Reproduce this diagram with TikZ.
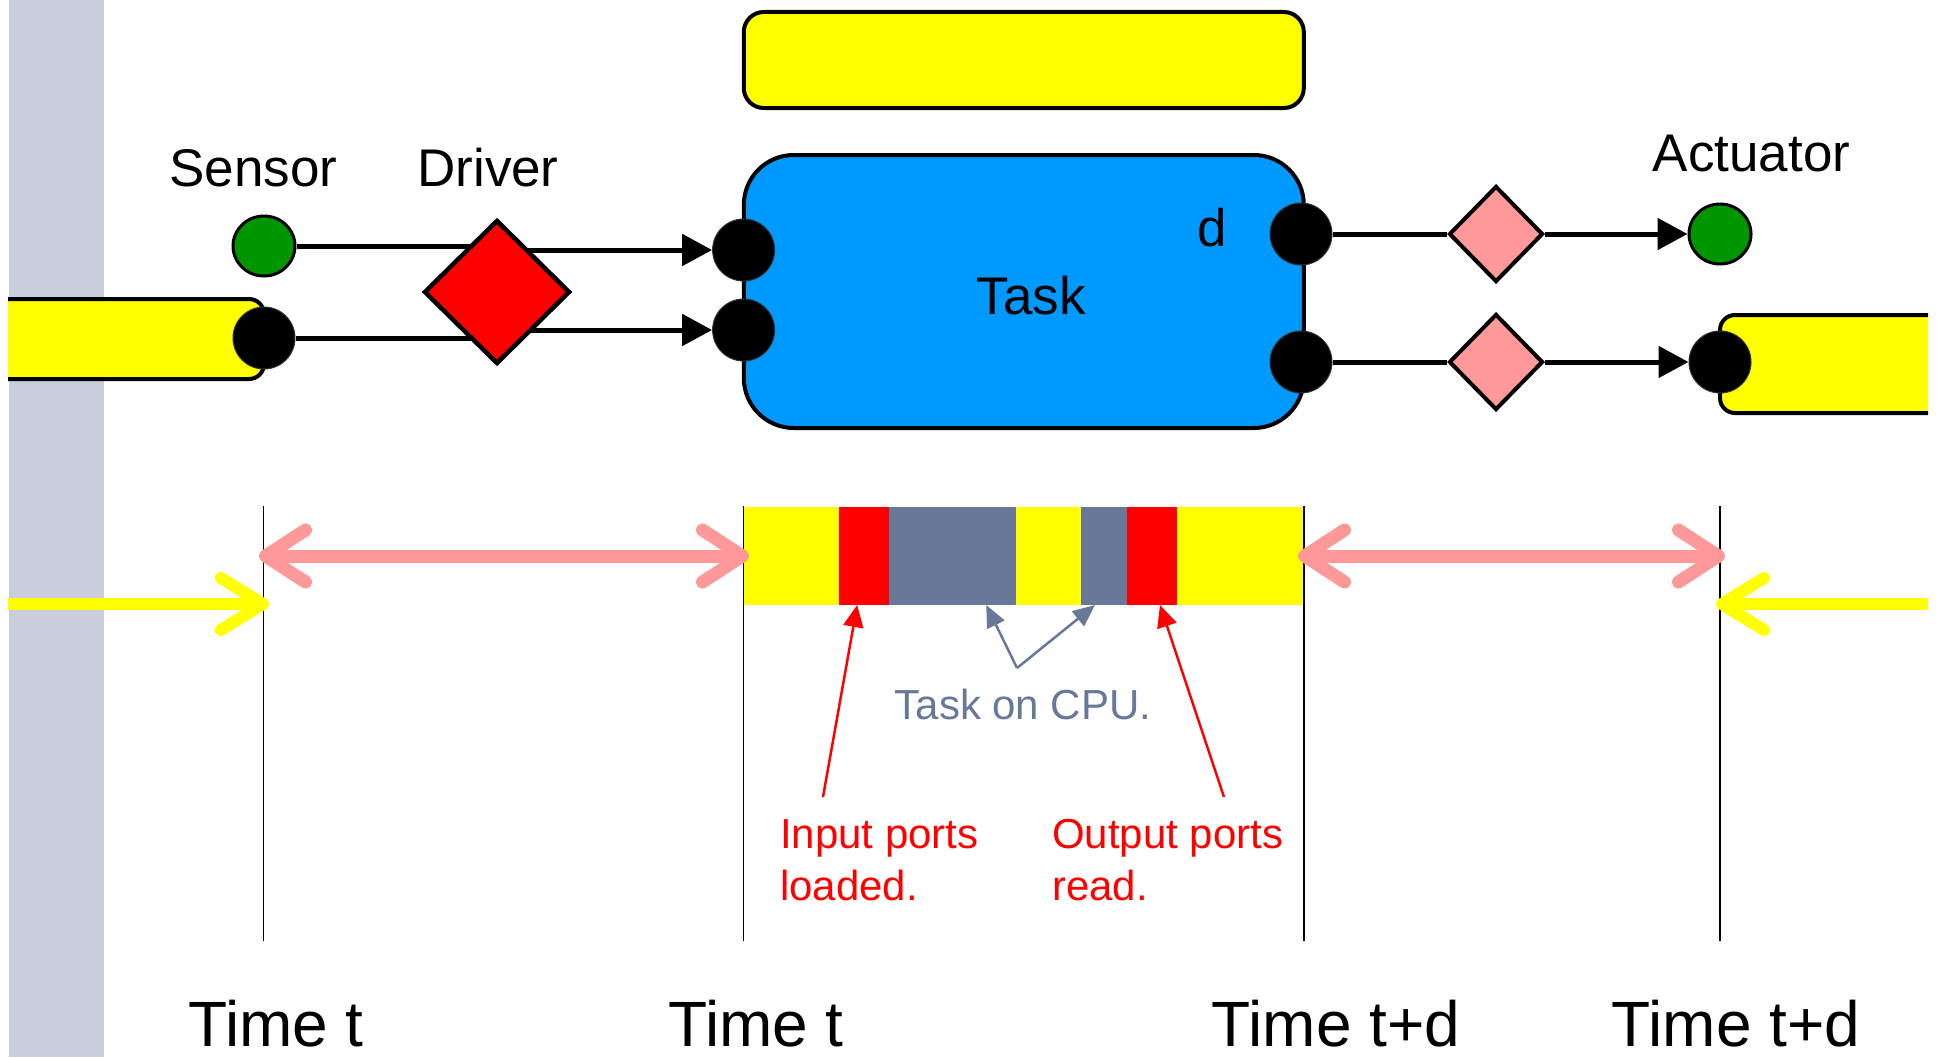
\documentclass[tikz,border=0pt]{standalone}
\usepackage{fontspec}
\setmainfont{Liberation Sans}
\usetikzlibrary{arrows.meta,shapes.geometric}

\definecolor{railgray}{RGB}{200,206,220}
\definecolor{taskblue}{RGB}{0,153,255}
\definecolor{leafgreen}{RGB}{0,150,0}
\definecolor{salmon}{RGB}{255,153,153}
\definecolor{cpuslate}{RGB}{103,120,152}
\definecolor{lemon}{RGB}{255,255,0}
\definecolor{hotred}{RGB}{255,0,0}

\pgfdeclarelayer{wires}
\pgfsetlayers{wires,main}

\begin{document}
\begin{tikzpicture}[x=1pt,y=-1pt,
  port/.style={ellipse, fill=black, draw=black!80, line width=1pt,
    minimum width=62pt, minimum height=62pt, inner sep=0pt},
  device/.style={ellipse, fill=leafgreen, draw=black, line width=3pt,
    minimum width=62pt, minimum height=60pt, inner sep=0pt},
  drvbox/.style={diamond, fill=hotred, draw=black, line width=4.5pt,
    minimum width=146pt, minimum height=144pt, inner sep=0pt},
  delaybox/.style={diamond, fill=salmon, draw=black, line width=4pt,
    minimum width=94pt, minimum height=96pt, inner sep=0pt},
  wire/.style={line width=5pt},
  feed/.style={wire, -{Triangle[length=30pt,width=31pt]}},
  lbl/.style={anchor=base, inner sep=0pt, font=\fontsize{53}{60}\selectfont},
  timelbl/.style={anchor=base, inner sep=0pt, font=\fontsize{64}{72}\selectfont},
  note/.style={anchor=base west, inner sep=0pt, text=hotred, font=\fontsize{42}{52}\selectfont},
  notearrow/.style={draw=hotred, line width=2.5pt, -{Triangle[length=22pt,width=20pt]}},
  cpuarrow/.style={draw=cpuslate, line width=2.5pt, -{Triangle[length=22pt,width=19pt]}},
  seg/.style={rectangle, inner sep=0pt, outer sep=0pt, minimum height=98pt},
  tick/.style={line width=1.5pt},
  span/.style={draw=salmon, line width=13pt,
    {Straight Barb[length=40pt,width=52pt,round]}-{Straight Barb[length=40pt,width=52pt,round]}},
  flow/.style={draw=lemon, line width=12pt, -{Straight Barb[length=42pt,width=52pt,round]}}
]
\useasboundingbox (0,0) rectangle (1940,1057);

% side rail
\fill[railgray] (8.7,0) rectangle (104,1057);

% buffers entering and leaving the picture
\begin{scope}
  \clip (8,0) rectangle (1928,1057);
  \draw[fill=lemon, line width=4pt, rounded corners=15pt]
    (-40,299) -- (264,299) -- (264,379) -- (-40,379);
  \draw[fill=lemon, line width=4pt, rounded corners=15pt]
    (1980,315) -- (1720,315) -- (1720,413) -- (1980,413);
\end{scope}

% frame above the task
\node[draw, fill=lemon, line width=4pt, rounded corners=20pt,
  minimum width=560pt, minimum height=96pt, inner sep=0pt] (frame) at (1023.8,60) {};

% task actor
\node[draw, fill=taskblue, line width=4pt, rounded corners=50pt,
  minimum width=560pt, minimum height=273pt, inner sep=0pt] (task) at (1023.8,291.5) {};
\node[lbl] (tasklbl) at (1031,314) {Task};
\node[lbl] (dlbl) at (1212,246) {d};

% sensors, driver, actuators
\node[device] (sensor) at (264,246) {};
\node[port] (srcport) at (264,338) {};
\node[drvbox] (drv) at (497,292) {};
\node[port] (inA) at (743.6,250) {};
\node[port] (inB) at (743.6,330) {};
\node[port] (outA) at (1301,234) {};
\node[port] (outB) at (1301,362) {};
\node[delaybox] (dlyA) at (1496,234) {};
\node[delaybox] (dlyB) at (1496,362) {};
\node[device] (act) at (1720,234) {};
\node[port] (sinkport) at (1720,362) {};

\node[lbl] (sensorlbl) at (253.5,186) {Sensor};
\node[lbl] (driverlbl) at (488,186) {Driver};
\node[lbl] (actlbl) at (1751.5,171) {Actuator};

% connections, kept below the nodes
\begin{pgfonlayer}{wires}
  \draw[wire] (sensor) -- (sensor -| drv);
  \draw[feed] (drv |- inA) -- (inA);
  \draw[wire] (srcport) -- (srcport -| drv);
  \draw[feed] (drv |- inB) -- (inB);
  \draw[wire] (outA) -- (dlyA);
  \draw[feed] (dlyA) -- (act);
  \draw[wire] (outB) -- (dlyB);
  \draw[feed] (dlyB) -- (sinkport);
\end{pgfonlayer}

% execution timeline of the task
\fill[lemon] (743.6,507) rectangle (1304,605);
\node[seg, fill=hotred, minimum width=49.6pt] (ldA) at (864.2,556) {};
\node[seg, fill=cpuslate, minimum width=126.5pt] (cpuA) at (952.25,556) {};
\node[seg, fill=cpuslate, minimum width=46pt] (cpuB) at (1104,556) {};
\node[seg, fill=hotred, minimum width=50pt] (rdB) at (1152,556) {};

% time instants
\draw[tick] (263.5,506) -- (263.5,941);
\draw[tick] (743.6,506) -- (743.6,941);
\draw[tick] (1304,506) -- (1304,941);
\draw[tick] (1720,506) -- (1720,941);

% intervals and data flow
\coordinate (spanAl) at (259,556);
\coordinate (spanAr) at (749,556);
\coordinate (spanBl) at (1298,556);
\coordinate (spanBr) at (1725,556);
\draw[span] (spanAl) -- (spanAr);
\draw[span] (spanBl) -- (spanBr);
\coordinate (flowAin) at (8,604);
\coordinate (flowAtip) at (269,604);
\coordinate (flowBin) at (1928,604);
\coordinate (flowBtip) at (1716,604);
\draw[flow] (flowAin) -- (flowAtip);
\draw[flow] (flowBin) -- (flowBtip);

% annotations
\node[anchor=base, inner sep=0pt, text=cpuslate, font=\fontsize{42}{52}\selectfont]
  (cpulbl) at (1023,719) {Task on CPU.};
\coordinate (cpuvertex) at (1017,668);
\draw[cpuarrow] (cpuvertex) -- ([xshift=34pt]cpuA.south);
\draw[cpuarrow] (cpuvertex) -- ([xshift=-9pt]cpuB.south);

\node[note] (inlbl) at (780,848) {Input ports};
\node[note] (inlbltwo) at (780,900) {loaded.};
\node[note] (outlbl) at (1052,848) {Output ports};
\node[note] (outlbltwo) at (1052,900) {read.};
\coordinate (intail) at (823,797);
\coordinate (outtail) at (1224,797);
\draw[notearrow] (intail) -- ([xshift=-7pt]ldA.south);
\draw[notearrow] (outtail) -- ([xshift=8pt]rdB.south);

% time labels
\node[timelbl] (timeA) at (276,1046) {Time t};
\node[timelbl] (timeB) at (756,1046) {Time t};
\node[timelbl] (timeC) at (1336,1046) {Time t+d};
\node[timelbl] (timeD) at (1736,1046) {Time t+d};
\end{tikzpicture}
\end{document}
